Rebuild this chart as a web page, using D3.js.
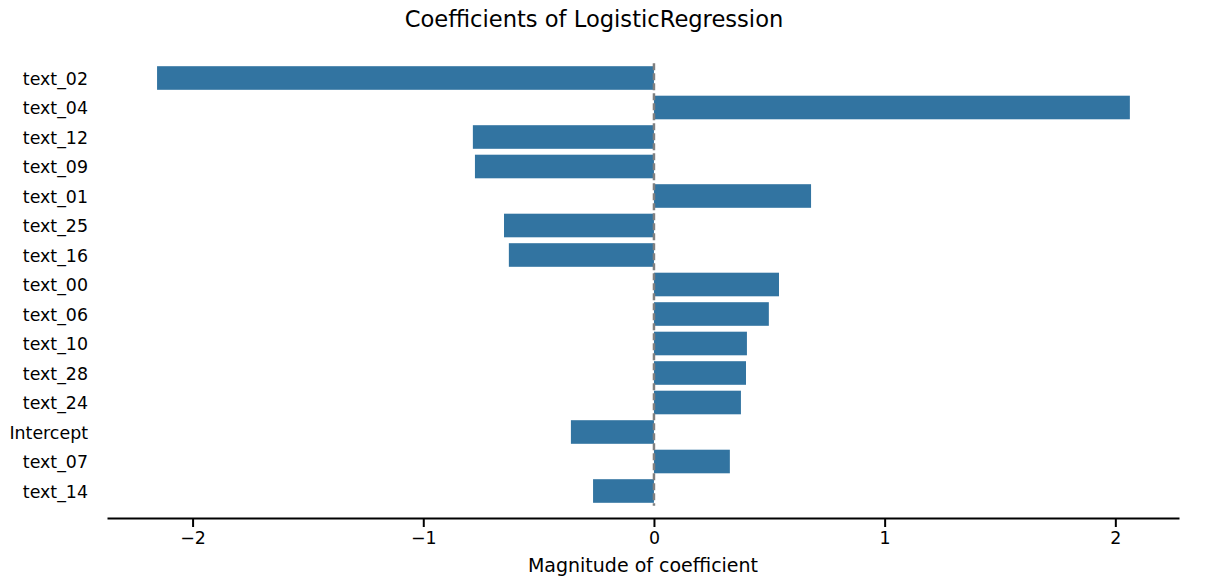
<!DOCTYPE html>
<html>
<head>
<meta charset="utf-8">
<script src="https://cdn.jsdelivr.net/npm/d3@7"></script>
<style>
  html, body { margin: 0; padding: 0; background: #fff; }
  svg text { font-family: "DejaVu Sans", sans-serif; fill: #000; }
</style>
</head>
<body>
<svg id="chart" width="1210" height="587"></svg>
<script>
const categories = ["text_02","text_04","text_12","text_09","text_01","text_25","text_16","text_00","text_06","text_10","text_28","text_24","Intercept","text_07","text_14"];
const coefficients = [-2.154, 2.063, -0.785, -0.776, 0.681, -0.650, -0.629, 0.542, 0.498, 0.403, 0.399, 0.377, -0.360, 0.329, -0.264];
const xTicks = [-2, -1, 0, 1, 2];
const xDomain = [-2.371, 2.276];
const titleText = "Coefficients of LogisticRegression";
const xLabel = "Magnitude of coefficient";

const svg = d3.select("#chart");
const x = d3.scaleLinear().domain(xDomain).range([107, 1179]);
const y = d3.scaleBand().domain(categories).range([63.25, 505.75]).paddingInner(0.2).paddingOuter(0.1);

// bars
svg.append("g").selectAll("rect")
  .data(categories.map((c, i) => ({c, v: coefficients[i]})))
  .join("rect")
  .attr("x", d => x(Math.min(0, d.v)))
  .attr("width", d => Math.abs(x(d.v) - x(0)))
  .attr("y", d => y(d.c))
  .attr("height", y.bandwidth())
  .attr("fill", "#3274a1");

// zero dashed line
svg.append("line")
  .attr("x1", x(0)).attr("x2", x(0))
  .attr("y1", y.range()[0]).attr("y2", y.range()[1])
  .attr("stroke", "#808080")
  .attr("stroke-width", 2.5)
  .attr("stroke-dasharray", "7,3");

// y labels
const yAxis = d3.axisLeft(y).tickSize(0).tickPadding(0);
const gy = svg.append("g").attr("transform", "translate(88,0)").call(yAxis);
gy.select(".domain").remove();
gy.selectAll("text").attr("font-size", "17.4px").attr("font-family", "DejaVu Sans, sans-serif").attr("fill", "#000").attr("dy", "0.4em");

// x axis
const xAxis = d3.axisBottom(x).tickValues(xTicks).tickSize(9).tickPadding(5).tickFormat(d3.format("d")).tickSizeOuter(0);
const gx = svg.append("g").attr("transform", "translate(0,518)").call(xAxis);
gx.select(".domain").attr("stroke", "#000").attr("stroke-width", 2);
gx.selectAll(".tick line").attr("stroke", "#000").attr("stroke-width", 2);
gx.selectAll("text").attr("font-size", "17.4px").attr("font-family", "DejaVu Sans, sans-serif").attr("fill", "#000");

// axis label
svg.append("text")
  .attr("x", (x.range()[0] + x.range()[1]) / 2)
  .attr("y", 572)
  .attr("text-anchor", "middle")
  .attr("font-size", "19px")
  .text(xLabel);

// title
svg.append("text")
  .attr("x", 594)
  .attr("y", 27)
  .attr("text-anchor", "middle")
  .attr("font-size", "22.6px")
  .text(titleText);
</script>
</body>
</html>
